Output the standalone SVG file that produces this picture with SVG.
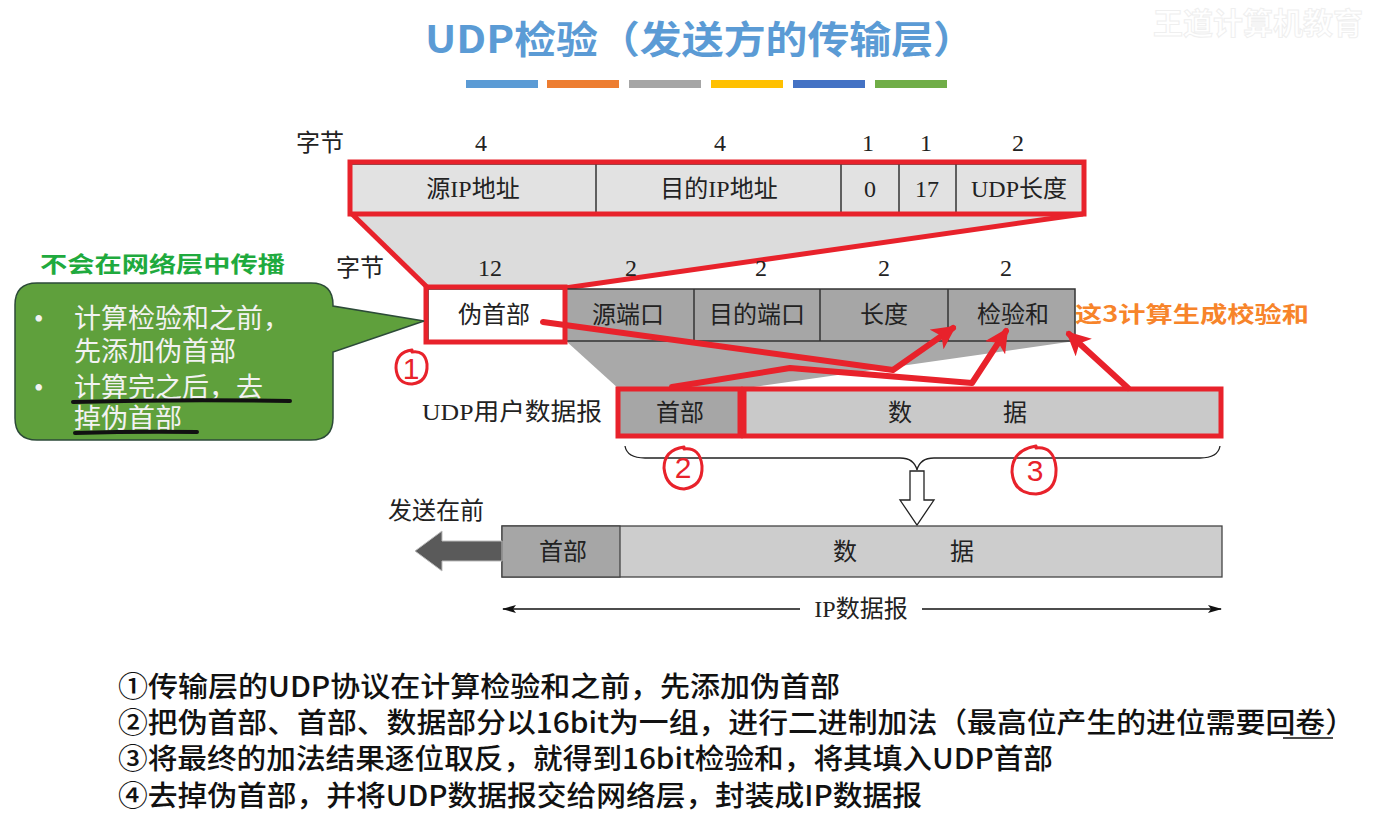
<svg xmlns="http://www.w3.org/2000/svg" width="1377" height="813" viewBox="0 0 1377 813">
<defs>
<style>
.t{font-family:"Liberation Serif","Noto Sans CJK SC",serif;fill:#222;font-size:24px;text-anchor:middle;dominant-baseline:central}
.fld{stroke:#333;stroke-width:1.5}
.red{fill:none;stroke:#e8222b;stroke-width:5}
.arr{fill:none;stroke:#e8222b;stroke-width:6;stroke-linejoin:round;stroke-linecap:round;marker-end:url(#rh)}
.hand{fill:none;stroke:#e8222b;stroke-width:3;stroke-linecap:round}
.hd{font-family:"Liberation Sans","Noto Sans CJK SC",sans-serif;fill:#e8222b;font-size:30px;text-anchor:middle;dominant-baseline:central}
.note{font-family:"Noto Sans CJK SC","Liberation Sans",sans-serif;font-size:28px;fill:#111;font-weight:500}
.bub{font-family:"Liberation Serif","Noto Sans CJK SC",serif;font-size:27px;fill:#f2f2f2}
</style>
<marker id="rh" markerUnits="userSpaceOnUse" markerWidth="26" markerHeight="24" refX="20" refY="12" orient="auto">
<path d="M0,0 L24,12 L0,24 L6,12 Z" fill="#e8222b"/>
</marker>
<marker id="bh" markerUnits="userSpaceOnUse" markerWidth="14" markerHeight="10" refX="13" refY="5" orient="auto-start-reverse">
<path d="M0,1 L14,5 L0,9 L3,5 Z" fill="#111"/>
</marker>
</defs>
<rect width="1377" height="813" fill="#fff"/>

<g id="title">
<text x="700" y="36" font-family="'Noto Sans CJK SC','Liberation Sans',sans-serif" font-size="38" font-weight="bold" fill="#5b9bd5" text-anchor="middle" dominant-baseline="central" textLength="550" lengthAdjust="spacingAndGlyphs">UDP检验（发送方的传输层）</text>
<rect x="466" y="80" width="72" height="8" fill="#5b9bd5"/>
<rect x="547" y="80" width="72" height="8" fill="#ed7d31"/>
<rect x="629" y="80" width="72" height="8" fill="#a5a5a5"/>
<rect x="711" y="80" width="72" height="8" fill="#ffc000"/>
<rect x="793" y="80" width="72" height="8" fill="#4472c4"/>
<rect x="875" y="80" width="72" height="8" fill="#70ad47"/>
<text x="1258" y="21" font-family="'Noto Sans CJK SC',sans-serif" font-size="30" font-weight="bold" fill="#fff" stroke="#efefef" stroke-width="1" text-anchor="middle" dominant-baseline="central">王道计算机教育</text>
</g>

<g id="trapezoids">
<polygon points="351,213 1083,213 565,289 428,289" fill="#dcdcdc"/>
<polygon points="566,341 1075,341 740,389 619,389" fill="#a9a9a9"/>
</g>

<g id="pseudo-header-fields">
<text class="t" x="320" y="143">字节</text>
<text class="t" x="481" y="143">4</text>
<text class="t" x="720" y="143">4</text>
<text class="t" x="868" y="143">1</text>
<text class="t" x="926" y="143">1</text>
<text class="t" x="1018" y="143">2</text>
<rect class="fld" x="351" y="164" width="732" height="49" fill="#e2e2e2"/>
<line class="fld" x1="596" y1="164" x2="596" y2="213"/>
<line class="fld" x1="841" y1="164" x2="841" y2="213"/>
<line class="fld" x1="899" y1="164" x2="899" y2="213"/>
<line class="fld" x1="956" y1="164" x2="956" y2="213"/>
<text class="t" x="473" y="189">源IP地址</text>
<text class="t" x="719" y="189">目的IP地址</text>
<text class="t" x="870" y="189">0</text>
<text class="t" x="927" y="189">17</text>
<text class="t" x="1019" y="189">UDP长度</text>
<rect class="red" x="350" y="162" width="734" height="52"/>
<line class="red" x1="352" y1="214" x2="428" y2="288"/>
<line class="red" x1="1083" y1="214" x2="565" y2="288"/>
</g>

<g id="udp-header-fields">
<text class="t" x="360" y="268">字节</text>
<text class="t" x="490" y="268">12</text>
<text class="t" x="631" y="268">2</text>
<text class="t" x="761" y="268">2</text>
<text class="t" x="884" y="268">2</text>
<text class="t" x="1006" y="268">2</text>
<rect class="fld" x="428" y="289" width="137" height="52" fill="#fff"/>
<rect class="fld" x="566" y="289" width="509" height="52" fill="#a6a6a6"/>
<line class="fld" x1="694" y1="289" x2="694" y2="341"/>
<line class="fld" x1="820" y1="289" x2="820" y2="341"/>
<line class="fld" x1="948" y1="289" x2="948" y2="341"/>
<text class="t" x="494" y="315">伪首部</text>
<text class="t" x="628" y="315">源端口</text>
<text class="t" x="757" y="315">目的端口</text>
<text class="t" x="884" y="315">长度</text>
<text class="t" x="1013" y="315">检验和</text>
<rect class="red" x="426" y="287" width="139" height="55"/>
<text x="1075" y="312" font-family="'Noto Sans CJK SC',sans-serif" font-size="22" font-weight="bold" fill="#f7842a" dominant-baseline="central" textLength="234" lengthAdjust="spacingAndGlyphs">这3计算生成校验和</text>
</g>

<g id="udp-datagram">
<text class="t" x="512" y="412" textLength="180" lengthAdjust="spacingAndGlyphs">UDP用户数据报</text>
<rect x="619" y="390" width="601" height="45" fill="#c9c9c9" stroke="#555" stroke-width="1.2"/>
<rect x="619" y="390" width="120" height="45" fill="#a6a6a6"/>
<text class="t" x="680" y="413">首部</text>
<text class="t" x="900" y="413">数</text>
<text class="t" x="1015" y="413">据</text>
<rect class="red" x="618" y="389" width="122" height="47"/>
<rect class="red" x="744" y="389" width="477" height="47"/>
<path d="M625,446 Q627,458 645,458 H900 Q914,458 917,470 Q920,458 934,458 H1200 Q1218,458 1220,446" fill="none" stroke="#222" stroke-width="1.3"/>
<path d="M910,471 H924 V500 H934 L917,525 L900,500 H910 Z" fill="#fff" stroke="#222" stroke-width="1.3"/>
</g>

<g id="ip-datagram">
<text class="t" x="436" y="511">发送在前</text>
<rect x="502" y="526" width="720" height="51" fill="#cdcdcd" stroke="#444" stroke-width="1.3"/>
<rect x="502" y="526" width="118" height="51" fill="#a6a6a6" stroke="#444" stroke-width="1.3"/>
<text class="t" x="563" y="552">首部</text>
<text class="t" x="845" y="552">数</text>
<text class="t" x="962" y="552">据</text>
<path d="M502,541 H442 V531 L415,551 L442,571 V561 H502 Z" fill="#5a5a5a" stroke="#bbb" stroke-width="1"/>
<line x1="503" y1="609" x2="800" y2="609" stroke="#111" stroke-width="1.3" marker-start="url(#bh)"/>
<line x1="922" y1="609" x2="1221" y2="609" stroke="#111" stroke-width="1.3" marker-end="url(#bh)"/>
<text class="t" x="861" y="609">IP数据报</text>
</g>

<g id="callout">
<text x="40" y="262" font-family="'Noto Sans CJK SC',sans-serif" font-size="22" font-weight="bold" fill="#1faa3e" dominant-baseline="central" textLength="245" lengthAdjust="spacingAndGlyphs">不会在网络层中传播</text>
<path d="M37,283 H311 Q333,283 333,305 V306 L424,321 L333,352 V418 Q333,440 311,440 H37 Q15,440 15,418 V305 Q15,283 37,283 Z" fill="#5fa03c" stroke="#2c4a38" stroke-width="1.5"/>
<text class="bub" x="34" y="319" dominant-baseline="central">•</text>
<text class="bub" x="74" y="319" dominant-baseline="central">计算检验和之前，</text>
<text class="bub" x="74" y="352" dominant-baseline="central">先添加伪首部</text>
<text class="bub" x="34" y="388" dominant-baseline="central">•</text>
<text class="bub" x="74" y="388" dominant-baseline="central">计算完之后，去</text>
<text class="bub" x="74" y="419" dominant-baseline="central">掉伪首部</text>
<path d="M73,402 Q180,399 290,401" fill="none" stroke="#111" stroke-width="4" stroke-linecap="round"/>
<path d="M75,433 Q140,431 197,432" fill="none" stroke="#111" stroke-width="4" stroke-linecap="round"/>
</g>

<g id="connectors">
<path class="arr" d="M543,322 L893,370 L953,328"/>
<path class="arr" d="M672,387 L790,368 L972,383 L1006,331"/>
<path class="arr" d="M1128,388 L1069,334"/>
</g>

<g id="annotations">
<path class="hand" d="M412,350 Q396,352 396,368 Q397,384 412,384 Q428,382 427,364 Q425,350 412,352"/>
<text class="hd" x="411" y="368" font-size="26">1</text>
<path class="hand" d="M684,447 Q664,450 664,468 Q666,488 684,489 Q703,486 702,466 Q700,447 684,449"/>
<text class="hd" x="683" y="467" font-size="26">2</text>
<path class="hand" d="M1036,446 Q1012,450 1012,472 Q1014,494 1036,494 Q1057,492 1056,468 Q1054,446 1036,448"/>
<text class="hd" x="1035" y="470" font-size="28">3</text>
</g>

<g id="notes">
<text class="note" x="118" y="697" textLength="722" lengthAdjust="spacingAndGlyphs">①传输层的UDP协议在计算检验和之前，先添加伪首部</text>
<text class="note" x="118" y="733" textLength="1237" lengthAdjust="spacingAndGlyphs">②把伪首部、首部、数据部分以16bit为一组，进行二进制加法（最高位产生的进位需要回卷）</text>
<line x1="1283" y1="738" x2="1333" y2="738" stroke="#111" stroke-width="1.5"/>
<text class="note" x="118" y="769" textLength="935" lengthAdjust="spacingAndGlyphs">③将最终的加法结果逐位取反，就得到16bit检验和，将其填入UDP首部</text>
<text class="note" x="118" y="806" textLength="804" lengthAdjust="spacingAndGlyphs">④去掉伪首部，并将UDP数据报交给网络层，封装成IP数据报</text>
</g>
</svg>
